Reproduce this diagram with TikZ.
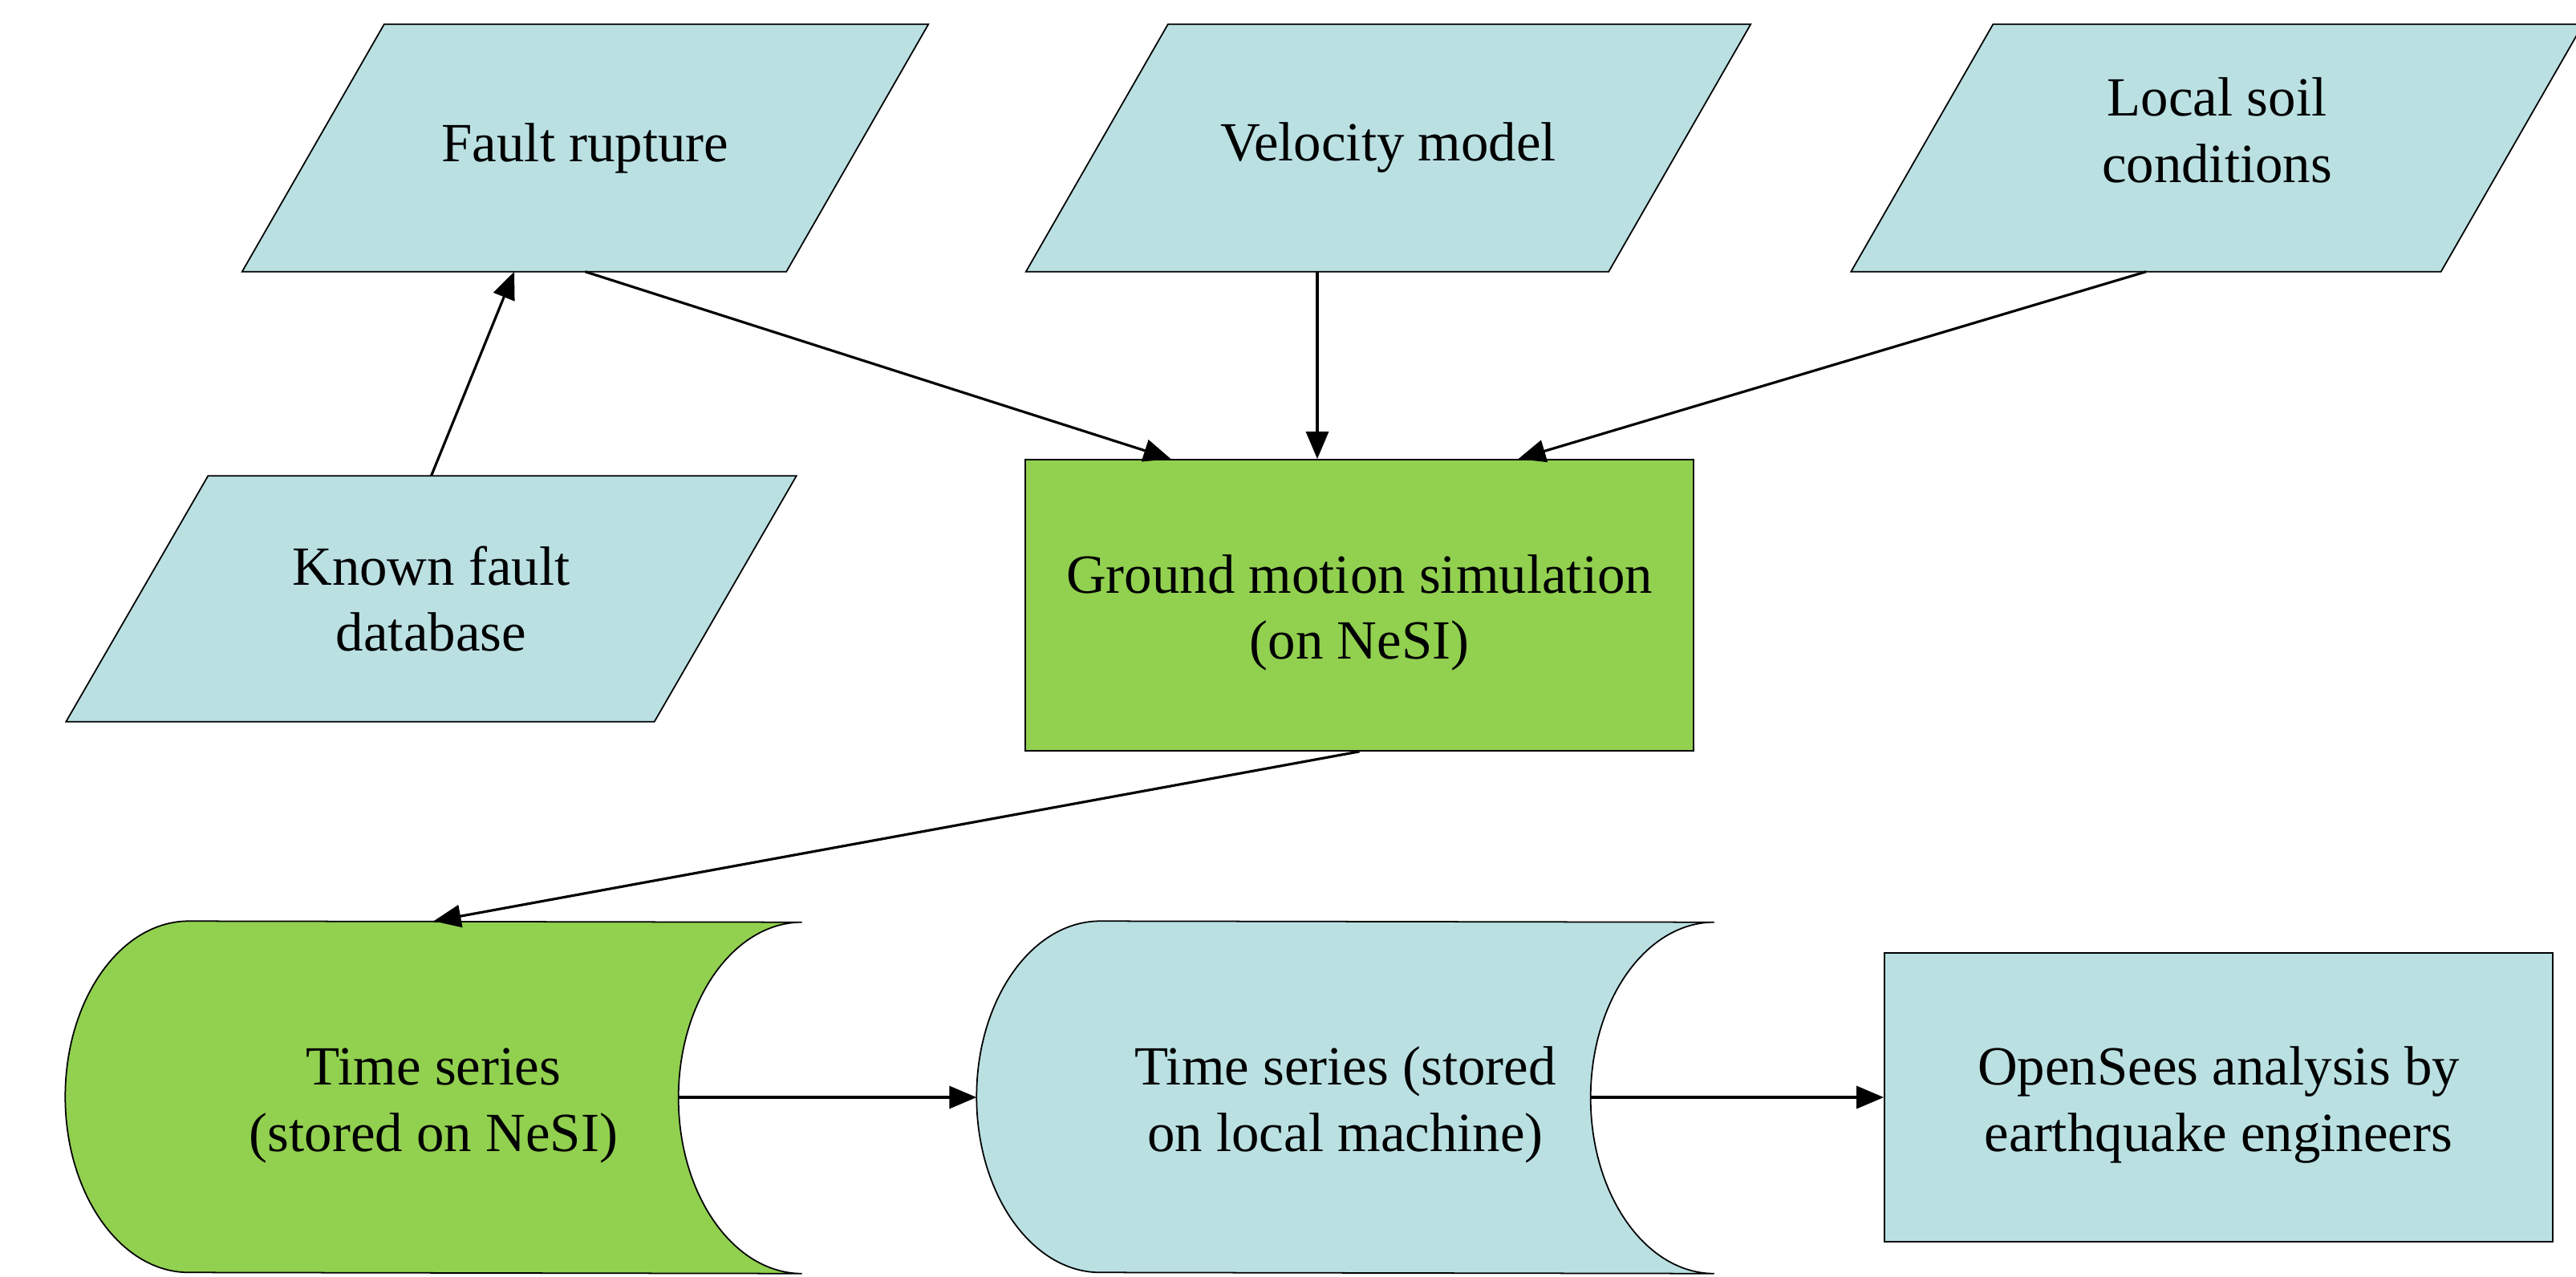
\documentclass[tikz,border=0pt]{standalone}
\usepackage{fontspec}
\setmainfont{Liberation Serif}
\usetikzlibrary{arrows.meta,backgrounds}
\definecolor{paleblue}{RGB}{186,224,226}
\definecolor{simgreen}{RGB}{146,208,80}
\newcommand{\slab}[1]{\begin{scope}[on background layer]\filldraw[fill=paleblue,line width=0.5pt]([xshift=-1.77cm]#1.south west)--(#1.south east)--([xshift=1.77cm]#1.north east)--(#1.north west)--cycle;\end{scope}}
\newcommand{\drum}[2]{\begin{scope}[on background layer]\filldraw[fill=#2,line width=0.5pt]([xshift=1.54cm]#1.north west)arc[start angle=90,end angle=270,x radius=1.54cm,y radius=2.19cm]--(#1.south east)arc[start angle=270,end angle=90,x radius=1.54cm,y radius=2.19cm]--cycle;\end{scope}}

\begin{document}
\begin{tikzpicture}[font=\fontsize{19.6}{23.5}\selectfont,
data/.style={rectangle,minimum height=3.07cm,inner sep=0pt,align=center},
proc/.style={rectangle,draw,line width=0.5pt,inner sep=0pt,align=center,text height=42.5pt},
store/.style={rectangle,minimum height=4.38cm,inner sep=0pt,align=center,text height=42.5pt},
flow/.style={-{Stealth[inset=0pt,length=0.34cm,width=0.28cm]},line width=0.9pt}]
\useasboundingbox(0,0)rectangle(32.11,-15.91);
\node[data,minimum width=5cm](fr)at(7.295,-1.845){Fault rupture};
\node[data,minimum width=5.48cm](vm)at(17.305,-1.845){Velocity model};
\node[data,minimum width=5.57cm,text depth=12.8pt](ls)at(27.635,-1.845){Local soil\\conditions};
\node[data,minimum width=5.55cm,minimum height=3.05cm](kf)at(5.375,-7.465){Known fault\\database};
\node[proc,fill=simgreen,minimum width=8.33cm,minimum height=3.63cm](gms)at(16.945,-7.545){Ground motion simulation\\(on NeSI)};
\node[store,minimum width=9.17cm](ts1)at(5.405,-13.68){Time series\\(stored on NeSI)};
\node[store,minimum width=9.18cm](ts2)at(16.77,-13.68){Time series (stored\\on local machine)};
\node[proc,fill=paleblue,minimum width=8.33cm,minimum height=3.6cm](os)at(27.655,-13.68){OpenSees analysis by\\earthquake engineers};
\slab{fr}\slab{vm}\slab{ls}\slab{kf}
\drum{ts1}{simgreen}
\drum{ts2}{paleblue}
\draw[flow](kf.north)--([xshift=-0.885cm]fr.south);
\draw[flow](fr.south)--([xshift=-2.35cm]gms.north);
\draw[flow]([xshift=-0.885cm]vm.south)--([xshift=-0.885cm]vm.south|-gms.north);
\draw[flow]([xshift=-0.885cm]ls.south)--([xshift=1.98cm]gms.north);
\draw[flow](gms.south)--(ts1.north);
\draw[flow]([xshift=-1.54cm]ts1.east)--(ts2.west);
\draw[flow]([xshift=-1.54cm]ts2.east)--(os.west);
\end{tikzpicture}
\end{document}
